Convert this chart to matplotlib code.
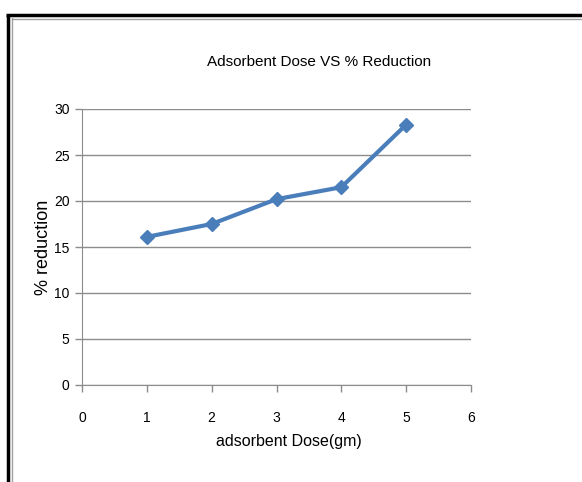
import matplotlib.pyplot as plt
from matplotlib.lines import Line2D

plt.rcParams['font.family'] = ['Liberation Sans Narrow', 'Liberation Sans', 'DejaVu Sans']

# data
dose = [1, 2, 3, 4, 5]
reduction = [16.1, 17.5, 20.2, 21.5, 28.3]
x_ticks = [0, 1, 2, 3, 4, 5, 6]
y_ticks = [0, 5, 10, 15, 20, 25, 30]

W, H = 582, 482
fig = plt.figure(figsize=(W / 100, H / 100), dpi=100)
fig.patch.set_facecolor("white")

# frame around the chart (left and top edges)
fig.add_artist(Line2D([7.5 / W, 7.5 / W], [0, 1 - 14.5 / H], color="black", lw=2.5,
                      solid_capstyle="butt"))
fig.add_artist(Line2D([6 / W, 1], [1 - 14.5 / H, 1 - 14.5 / H], color="black", lw=2.5,
                      solid_capstyle="butt"))
fig.add_artist(Line2D([12 / W, 12 / W], [0, 1 - 18 / H], color="#a0a0a0", lw=1))
fig.add_artist(Line2D([12 / W, 1], [1 - 18.5 / H, 1 - 18.5 / H], color="#a0a0a0", lw=1))

ax = fig.add_axes([82 / W, 1 - 385 / H, (471 - 82) / W, (385 - 109) / H])
ax.plot(dose, reduction, color="#4A7EBB", lw=3, marker="D", markersize=7.5,
        solid_joinstyle="round")

ax.set_xlim(0, 6)
ax.set_ylim(0, 30)
ax.set_xticks(x_ticks)
ax.set_yticks(y_ticks)
ax.yaxis.grid(True, color="#8c8c8c", lw=1)
ax.set_axisbelow(True)
for s in ["top", "right"]:
    ax.spines[s].set_visible(False)
for s in ["left", "bottom"]:
    ax.spines[s].set_color("#8c8c8c")
ax.tick_params(colors="#8c8c8c", labelcolor="black", labelsize=10, length=5, width=1)
ax.tick_params(axis="x", pad=14)
ax.tick_params(axis="y", pad=4)

fig.text(319 / W, 1 - 62 / H, "Adsorbent Dose VS % Reduction", fontsize=11,
         ha="center", va="center")
ax.set_xlabel("adsorbent Dose(gm)", fontsize=11.5)
ax.xaxis.set_label_coords((289 - 82) / 389, (385 - 434) / 276)
ax.set_ylabel("% reduction", fontsize=13)
ax.yaxis.set_label_coords((52 - 82) / 389, 0.5)

fig.savefig("out.png", dpi=100)
